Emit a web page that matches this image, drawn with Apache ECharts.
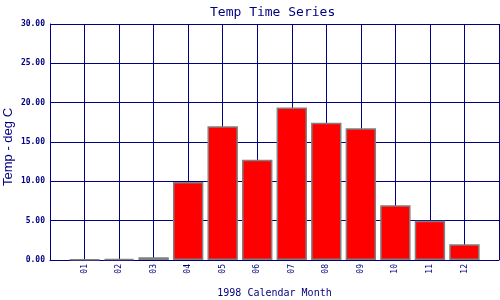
<!DOCTYPE html>
<html><head><meta charset="utf-8">
<script src="https://cdn.jsdelivr.net/npm/echarts@6/dist/echarts.min.js"></script>
<style>html,body{margin:0;padding:0;background:#fff}#c{width:500px;height:300px}</style>
</head><body><div id="c"></div>
<script>
const months = ['01','02','03','04','05','06','07','08','09','10','11','12'];
const temps = [0.05, 0.15, 0.35, 9.9, 17.0, 12.75, 19.4, 17.45, 16.75, 6.95, 5.0, 2.0];
const yTicks = [0, 5, 10, 15, 20, 25, 30];

const navy = '#000080';
const cats = [''].concat(months, ['']);
const vals = [null].concat(temps, [null]);

const chart = echarts.init(document.getElementById('c'), null, {renderer:'canvas'});
chart.setOption({
  animation: false,
  backgroundColor: '#fff',
  title: {
    text: 'Temp Time Series', left: 205, top: 1,
    textStyle: {fontFamily: 'DejaVu Sans Mono', fontSize: 13, fontWeight: 'normal', color: navy}
  },
  grid: {left: 50, right: 1, top: 24, bottom: 40, containLabel: false, outerBoundsMode: 'none'},
  xAxis: {
    type: 'category', data: cats, boundaryGap: false,
    name: '1998 Calendar Month', nameLocation: 'middle', nameGap: 28,
    nameTextStyle: {fontFamily: 'DejaVu Sans Mono', fontSize: 10, color: navy},
    axisLine: {lineStyle: {color: navy, width: 1}},
    axisTick: {show: false},
    axisLabel: {rotate: 90, interval: 0, margin: 4, fontFamily: 'DejaVu Sans Mono', fontSize: 8, color: navy},
    splitLine: {show: true, interval: 0, lineStyle: {color: navy, width: 1}}
  },
  yAxis: {
    type: 'value', min: yTicks[0], max: yTicks[yTicks.length-1], interval: yTicks[1]-yTicks[0],
    name: 'Temp - deg C', nameLocation: 'middle', nameGap: 35, nameMoveOverlap: false,
    nameTextStyle: {fontFamily: 'Liberation Sans', fontSize: 13, color: navy, padding: [0, 10, 0, 0]},
    axisLine: {show: true, lineStyle: {color: navy, width: 1}},
    axisTick: {show: false},
    axisLabel: {margin: 5, fontFamily: 'DejaVu Sans Mono', fontSize: 8, fontWeight: 'bold', color: navy,
      formatter: v => v.toFixed(2)},
    splitLine: {show: true, lineStyle: {color: navy, width: 1}}
  },
  series: [{
    type: 'bar', data: vals, barCategoryGap: '12%',
    itemStyle: {color: '#ff0000', borderColor: '#808080', borderWidth: 1.5}
  }]
});
</script></body></html>
